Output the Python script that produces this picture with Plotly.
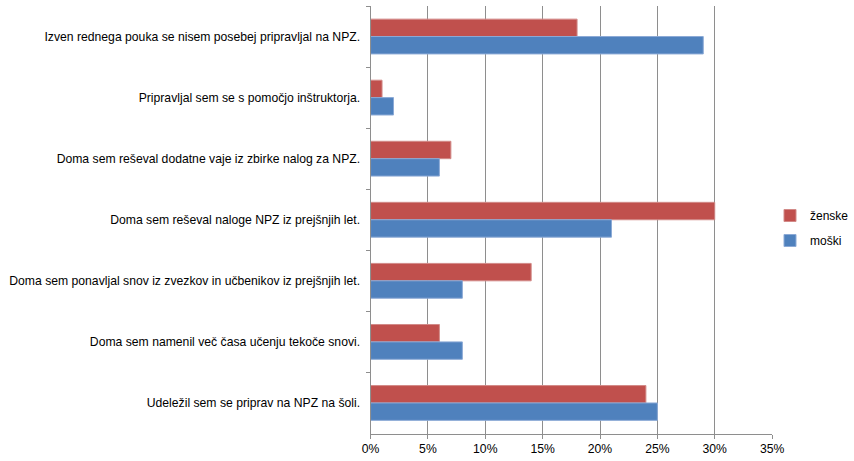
import plotly.graph_objects as go

categories = [
    "Izven rednega pouka se nisem posebej pripravljal na NPZ.",
    "Pripravljal sem se s pomočjo inštruktorja.",
    "Doma sem reševal dodatne vaje iz zbirke nalog za NPZ.",
    "Doma sem reševal naloge NPZ iz prejšnjih let.",
    "Doma sem ponavljal snov iz zvezkov in učbenikov iz prejšnjih let.",
    "Doma sem namenil več časa učenju tekoče snovi.",
    "Udeležil sem se priprav na NPZ na šoli.",
]
zenske = [18, 1, 7, 30, 14, 6, 24]
moski = [29, 2, 6, 21, 8, 8, 25]
x_ticks = [0, 5, 10, 15, 20, 25, 30, 35]
x_tick_labels = ["0%", "5%", "10%", "15%", "20%", "25%", "30%", "35%"]

W, H = 854, 461

fig = go.Figure()
fig.add_trace(go.Bar(
    y=categories, x=zenske, name="ženske", orientation="h",
    marker=dict(color="#C0504D", line=dict(color="#D28A88", width=1)),
    legendgroup="a",
))
fig.add_trace(go.Bar(
    y=categories, x=moski, name="moški", orientation="h",
    marker=dict(color="#4F81BD", line=dict(color="#8CAAD6", width=1)),
    legendgroup="b",
))

fig.update_layout(
    width=W, height=H,
    margin=dict(l=0, r=0, t=0, b=0),
    paper_bgcolor="white", plot_bgcolor="white",
    barmode="group", bargap=0.43, bargroupgap=0,
    font=dict(family="Liberation Sans, Arial, sans-serif", size=12.2, color="#000000"),
    legend=dict(x=771 / W, y=1 - 228 / H, xanchor="left", yanchor="middle",
                tracegroupgap=6, font=dict(size=12), bgcolor="rgba(0,0,0,0)"),
    showlegend=True,
)
fig.update_xaxes(
    domain=[371 / W, 773 / W],
    range=[0, 35], tickvals=x_ticks, ticktext=x_tick_labels,
    showgrid=True, gridcolor="#8E8E8E", gridwidth=1,
    showline=True, linecolor="#8E8E8E", linewidth=1,
    ticks="outside", ticklen=4, tickcolor="#8E8E8E",
    zeroline=False, automargin=False,
)
fig.update_yaxes(
    domain=[(H - 433.5) / H, (H - 6) / H],
    autorange="reversed", showline=True, linecolor="#8E8E8E", linewidth=1,
    ticks="outside", ticklen=4, tickcolor="#8E8E8E", tickson="boundaries",
    showgrid=False, ticklabelstandoff=7, automargin=False,
)

fig.write_html(
    "out.html",
    config={"displayModeBar": False},
    post_script="document.body.style.margin='0';document.body.style.overflow='hidden';",
)
